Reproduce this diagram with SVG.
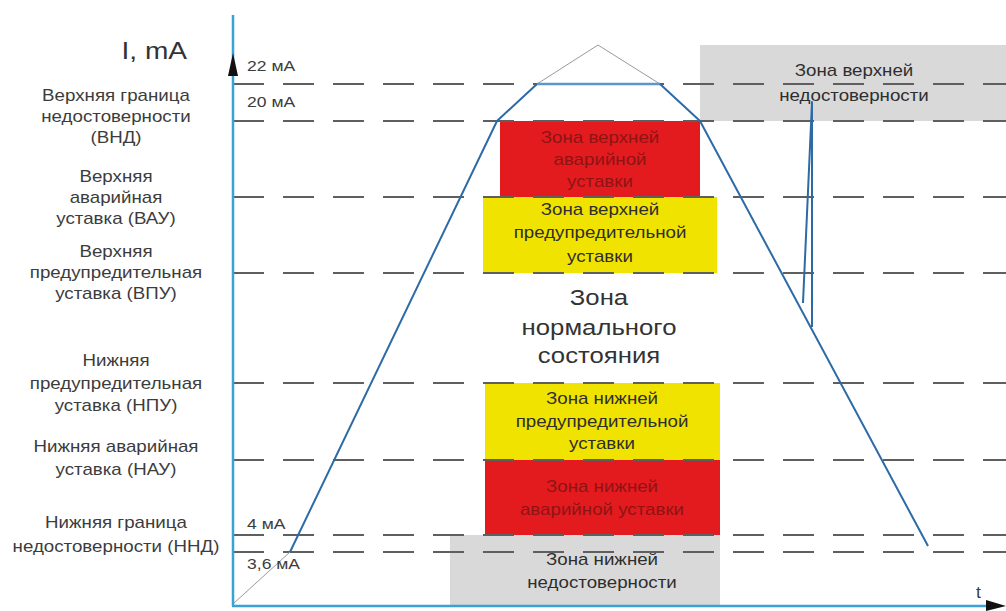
<svg xmlns="http://www.w3.org/2000/svg" width="1006" height="611" viewBox="0 0 1006 611">
<style>
text{font-family:"Liberation Sans",Arial,sans-serif;}
.lbl{font-size:16px;fill:#3c3c3c;text-anchor:middle;}
.val{font-size:15px;fill:#3c3c3c;}
.zt{font-size:16px;fill:#2e2e2e;text-anchor:middle;}
.zr{font-size:16px;fill:#8e1414;text-anchor:middle;}
.dash{stroke:#5f5f5f;stroke-width:2;stroke-dasharray:31 19;fill:none;}
.traj{stroke:#2d6aa6;stroke-width:2;fill:none;stroke-linejoin:round;}
.thin{stroke:#9a9a9a;stroke-width:1;fill:none;}
.axis{stroke:#3ba2d4;stroke-width:2.5;fill:none;}
</style>
<rect width="1006" height="611" fill="#ffffff"/>

<g id="zone-upper-unreliable">
<rect x="700" y="45" width="306" height="76" fill="#d9d9d9"/>
<text class="zt" transform="translate(854,76) scale(1.17,1)" x="0" y="0">Зона верхней</text>
<text class="zt" transform="translate(854,101) scale(1.17,1)" x="0" y="0">недостоверности</text>
</g>
<g id="zone-upper-alarm">
<rect x="500" y="121" width="200" height="76" fill="#e31b1f"/>
<text class="zr" transform="translate(600,143) scale(1.17,1)" x="0" y="0">Зона верхней</text>
<text class="zr" transform="translate(600,165) scale(1.17,1)" x="0" y="0">аварийной</text>
<text class="zr" transform="translate(600,187) scale(1.17,1)" x="0" y="0">уставки</text>
</g>
<g id="zone-upper-warning">
<rect x="483" y="197" width="234" height="76" fill="#f1e300"/>
<text class="zt" transform="translate(600,215) scale(1.17,1)" x="0" y="0">Зона верхней</text>
<text class="zt" transform="translate(600,238) scale(1.17,1)" x="0" y="0">предупредительной</text>
<text class="zt" transform="translate(600,262) scale(1.17,1)" x="0" y="0">уставки</text>
</g>
<g id="zone-normal">
<text class="zt" style="font-size:22px;fill:#333" transform="translate(599,305) scale(1.17,1)" x="0" y="0">Зона</text>
<text class="zt" style="font-size:22px;fill:#333" transform="translate(599,335) scale(1.17,1)" x="0" y="0">нормального</text>
<text class="zt" style="font-size:22px;fill:#333" transform="translate(599,363) scale(1.17,1)" x="0" y="0">состояния</text>
</g>
<g id="zone-lower-warning">
<rect x="485" y="383" width="235" height="77" fill="#f1e300"/>
<text class="zt" transform="translate(602,404) scale(1.17,1)" x="0" y="0">Зона нижней</text>
<text class="zt" transform="translate(602,427) scale(1.17,1)" x="0" y="0">предупредительной</text>
<text class="zt" transform="translate(602,449) scale(1.17,1)" x="0" y="0">уставки</text>
</g>
<g id="zone-lower-alarm">
<rect x="485" y="460" width="235" height="75" fill="#e31b1f"/>
<text class="zr" transform="translate(602,492) scale(1.17,1)" x="0" y="0">Зона нижней</text>
<text class="zr" transform="translate(602,515) scale(1.17,1)" x="0" y="0">аварийной уставки</text>
</g>
<g id="zone-lower-unreliable">
<rect x="450" y="535" width="270" height="70" fill="#d9d9d9"/>
<text class="zt" transform="translate(602,565) scale(1.17,1)" x="0" y="0">Зона нижней</text>
<text class="zt" transform="translate(602,588) scale(1.17,1)" x="0" y="0">недостоверности</text>
</g>

<g id="levels">
<line class="dash" x1="233" y1="84" x2="1006" y2="84"/>
<line class="dash" x1="233" y1="121" x2="1006" y2="121"/>
<line class="dash" x1="233" y1="197" x2="1006" y2="197"/>
<line class="dash" x1="233" y1="273" x2="1006" y2="273"/>
<line class="dash" x1="233" y1="383" x2="1006" y2="383"/>
<line class="dash" x1="233" y1="460" x2="1006" y2="460"/>
<line class="dash" x1="233" y1="535" x2="1006" y2="535"/>
<line class="dash" x1="233" y1="552" x2="1006" y2="552"/>
</g>

<g id="connectors">
<polyline class="thin" points="233,604 290,552"/>
<polyline class="thin" points="537,84 598,45 660,84"/>
<polyline class="traj" points="290,552 497,121 537,84"/>
<line x1="537" y1="84" x2="660" y2="84" stroke="#5f95d0" stroke-width="2.5"/>
<polyline class="traj" points="660,84 700,121 928,546"/>
<polyline class="traj" points="803,303 812,102 812,327"/>
</g>

<g id="axes">
<line class="axis" x1="233" y1="15" x2="233" y2="606"/>
<line class="axis" x1="232" y1="606" x2="992" y2="606"/>
<polygon points="233,53 228,76 238,76" fill="#111"/>
<polygon points="1006,606 986,600 986,611" fill="#111"/>
</g>

<g id="axis-labels">
<text style="font-size:24px;fill:#333;text-anchor:end" transform="translate(187,59) scale(1.17,1)" x="0" y="0">I, mA</text>
<text class="val" style="font-size:16px" transform="translate(976,598) scale(1.1,1)" x="0" y="0">t</text>
<text class="val" transform="translate(247,71) scale(1.17,1)" x="0" y="0">22 мА</text>
<text class="val" transform="translate(247,107) scale(1.17,1)" x="0" y="0">20 мА</text>
<text class="val" transform="translate(247,529) scale(1.17,1)" x="0" y="0">4 мА</text>
<text class="val" transform="translate(247,569) scale(1.17,1)" x="0" y="0">3,6 мА</text>
</g>

<g id="label-vnd">
<text class="lbl" transform="translate(116,101) scale(1.17,1)" x="0" y="0">Верхняя граница</text>
<text class="lbl" transform="translate(116,122) scale(1.17,1)" x="0" y="0">недостоверности</text>
<text class="lbl" transform="translate(116,143) scale(1.17,1)" x="0" y="0">(ВНД)</text>
</g>
<g id="label-vau">
<text class="lbl" transform="translate(116,182) scale(1.17,1)" x="0" y="0">Верхняя</text>
<text class="lbl" transform="translate(116,203) scale(1.17,1)" x="0" y="0">аварийная</text>
<text class="lbl" transform="translate(116,224) scale(1.17,1)" x="0" y="0">уставка (ВАУ)</text>
</g>
<g id="label-vpu">
<text class="lbl" transform="translate(116,257) scale(1.17,1)" x="0" y="0">Верхняя</text>
<text class="lbl" transform="translate(116,278) scale(1.17,1)" x="0" y="0">предупредительная</text>
<text class="lbl" transform="translate(116,299) scale(1.17,1)" x="0" y="0">уставка (ВПУ)</text>
</g>
<g id="label-npu">
<text class="lbl" transform="translate(116,366) scale(1.17,1)" x="0" y="0">Нижняя</text>
<text class="lbl" transform="translate(116,389) scale(1.17,1)" x="0" y="0">предупредительная</text>
<text class="lbl" transform="translate(116,411) scale(1.17,1)" x="0" y="0">уставка (НПУ)</text>
</g>
<g id="label-nau">
<text class="lbl" transform="translate(116,452) scale(1.17,1)" x="0" y="0">Нижняя аварийная</text>
<text class="lbl" transform="translate(116,475) scale(1.17,1)" x="0" y="0">уставка (НАУ)</text>
</g>
<g id="label-nnd">
<text class="lbl" transform="translate(116,528) scale(1.17,1)" x="0" y="0">Нижняя граница</text>
<text class="lbl" transform="translate(116,552) scale(1.17,1)" x="0" y="0">недостоверности (ННД)</text>
</g>
</svg>
